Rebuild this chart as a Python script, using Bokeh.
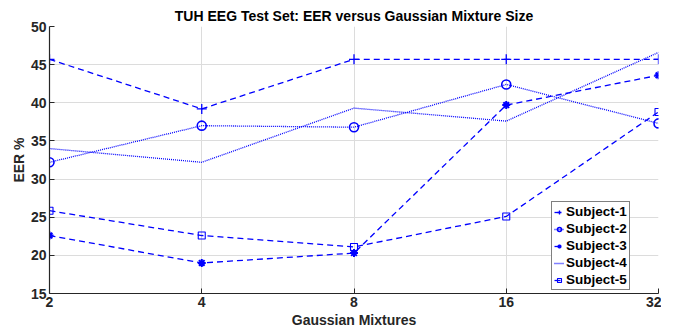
from bokeh.plotting import figure
from bokeh.models import Range1d, FixedTicker, PrintfTickFormatter
from bokeh.embed import file_html
from bokeh.resources import INLINE

mixtures = [2, 4, 8, 16, 32]
subject_1 = [45.7, 39.2, 45.7, 45.7, 45.7]
subject_2 = [32.2, 37.0, 36.8, 42.4, 37.3]
subject_3 = [22.6, 19.0, 20.3, 39.7, 43.6]
subject_4 = [34.0, 32.2, 39.3, 37.6, 46.6]
subject_5 = [25.85, 22.6, 21.1, 25.1, 38.8]
y_ticks = [15, 20, 25, 30, 35, 40, 45, 50]

FONT = "Liberation Sans"
BLUE = "#0000ff"

p = figure(frame_width=609, frame_height=267, output_backend="svg", toolbar_location=None,
           x_axis_type="log", x_range=Range1d(2, 32), y_range=Range1d(15, 50),
           min_border_left=49, min_border_right=3, min_border_top=26, min_border_bottom=0)

p.title.text = "TUH EEG Test Set: EER versus Gaussian Mixture Size"
p.title.align = "center"
p.title.text_font = FONT
p.title.text_font_size = "14px"
p.title.text_font_style = "bold"
p.title.text_color = "#000000"
p.title.standoff = 6

p.outline_line_color = None
p.background_fill_color = "white"

# lines and markers
p.line(mixtures, subject_1, color=BLUE, line_width=1.3, line_dash="6 4", legend_label="Subject-1")
p.scatter(mixtures, subject_1, marker="cross", size=10, line_color=BLUE, line_width=1.3, legend_label="Subject-1")

p.line(mixtures, subject_2, color=BLUE, line_width=1.3, line_dash="1 1", legend_label="Subject-2")
p.scatter(mixtures, subject_2, marker="circle", size=9, line_color=BLUE, fill_color=None, line_width=1.6, legend_label="Subject-2")

p.line(mixtures, subject_3, color=BLUE, line_width=1.3, line_dash="6 4", legend_label="Subject-3")
p.scatter(mixtures, subject_3, marker="asterisk", size=8, line_color=BLUE, line_width=2, legend_label="Subject-3")

p.line(mixtures, subject_4, color=BLUE, line_width=1.3, line_dash="1 1", legend_label="Subject-4")

p.line(mixtures, subject_5, color=BLUE, line_width=1.3, line_dash="6 4", legend_label="Subject-5")
p.scatter(mixtures, subject_5, marker="square", size=7, line_color=BLUE, fill_color=None, line_width=1.1, legend_label="Subject-5")

# axes
p.xaxis.ticker = FixedTicker(ticks=mixtures)
p.xaxis.formatter = PrintfTickFormatter(format="%d")
p.yaxis.ticker = FixedTicker(ticks=y_ticks)
for ax in (p.xaxis[0], p.yaxis[0]):
    ax.major_label_text_font = FONT
    ax.major_label_text_font_size = "14px"
    ax.major_label_text_font_style = "bold"
    ax.major_label_text_color = "#262626"
    ax.axis_label_text_font = FONT
    ax.axis_label_text_font_size = "14px"
    ax.axis_label_text_font_style = "bold"
    ax.axis_label_text_color = "#262626"
    ax.axis_line_color = "#262626"
    ax.axis_line_width = 1.2
    ax.major_tick_line_color = "#262626"
    ax.major_tick_in = 5
    ax.major_tick_out = 0
    ax.minor_tick_line_color = None
p.xaxis.axis_label = "Gaussian Mixtures"
p.yaxis.axis_label = "EER %"
p.xaxis.major_label_standoff = 3
p.yaxis.major_label_standoff = 3
p.xaxis.axis_label_standoff = 2
p.yaxis.axis_label_standoff = 1

p.xgrid.grid_line_color = "#dcdcdc"
p.ygrid.grid_line_color = "#dcdcdc"
p.xgrid.grid_line_width = 1
p.ygrid.grid_line_width = 1

# legend
lg = p.legend[0]
lg.location = (502, 3)
lg.label_text_font = FONT
lg.label_text_font_size = "13.5px"
lg.label_text_font_style = "bold"
lg.label_text_color = "#000000"
lg.border_line_color = "#000000"
lg.border_line_width = 1
lg.background_fill_color = "white"
lg.background_fill_alpha = 1
lg.glyph_width = 10
lg.glyph_height = 14
lg.label_height = 14
lg.label_standoff = 2
lg.spacing = 2
lg.padding = 2
lg.margin = 0

open("out.html", "w").write(file_html(p, INLINE))
